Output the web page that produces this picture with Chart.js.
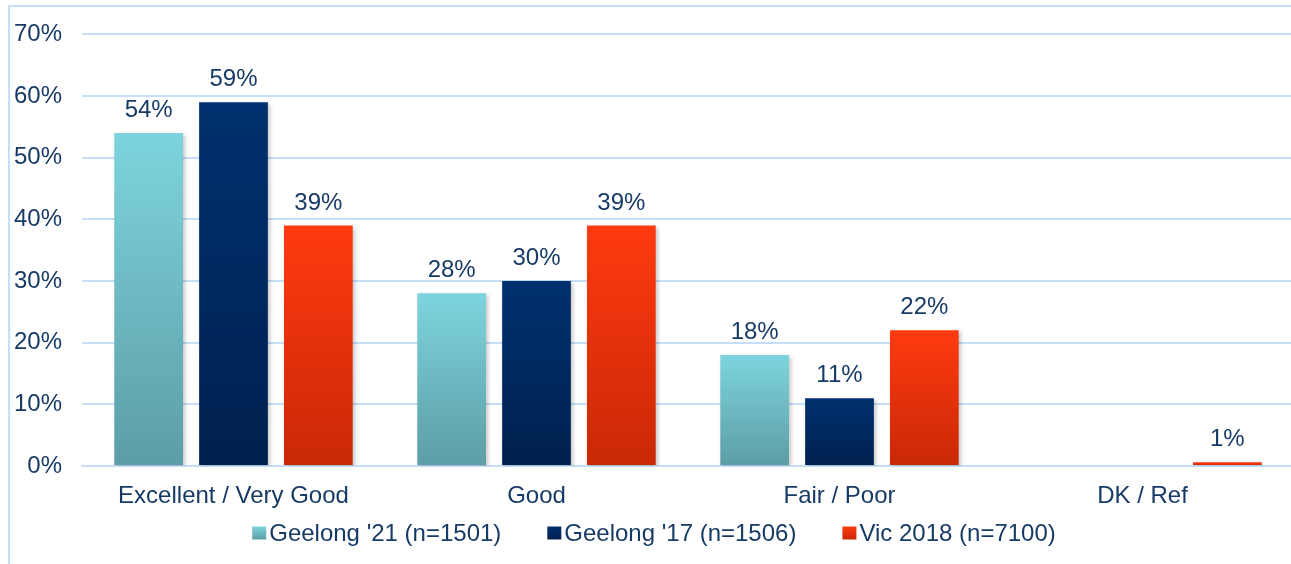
<!DOCTYPE html>
<html>
<head>
<meta charset="utf-8">
<script src="https://cdn.jsdelivr.net/npm/chart.js@4"></script>
<style>
  html, body { margin: 0; padding: 0; background: #fff; overflow: hidden; }
  #wrap { position: relative; width: 1291px; height: 564px; overflow: hidden; }
  #frame { position: absolute; left: 8px; top: 5px; width: 1400px; height: 700px; border: 2px solid #c6def7; box-sizing: border-box; }
  #box { position: absolute; left: 0; top: 0; width: 1294px; height: 564px; }
</style>
</head>
<body>
<div id="wrap">
  <div id="frame"></div>
  <div id="box"><canvas id="chart"></canvas></div>
</div>
<script>
// data
const categories = ['Excellent / Very Good', 'Good', 'Fair / Poor', 'DK / Ref'];
const seriesNames = ["Geelong '21 (n=1501)", "Geelong '17 (n=1506)", 'Vic 2018 (n=7100)'];
const geelong21 = [54, 28, 18, 0];
const geelong17 = [59, 30, 11, 0];
const vic2018 = [39, 39, 22, 0.6];
const yTicks = [0, 10, 20, 30, 40, 50, 60, 70];

const textColor = '#173a66';
const gridColor = '#c6def7';
const FONT = "'Liberation Sans', Arial, sans-serif";

// top / bottom colours of each bar gradient
const gradStops = [
  ['#7dd4de', '#5d9da5'],
  ['#00306f', '#00214f'],
  ['#ff3a10', '#c92806']
];

function vGrad(c, stops, top, bottom) {
  const g = c.createLinearGradient(0, top, 0, bottom);
  g.addColorStop(0, stops[0]);
  g.addColorStop(1, stops[1]);
  return g;
}

function barGradient(ctx) {
  const chart = ctx.chart;
  const stops = gradStops[ctx.datasetIndex];
  const y = chart.scales.y;
  if (!chart.chartArea || !y || ctx.raw == null) return stops[0];
  const top = y.getPixelForValue(ctx.raw);
  const bottom = y.getPixelForValue(0);
  if (!isFinite(top) || !isFinite(bottom) || top === bottom) return stops[0];
  return vGrad(chart.ctx, stops, top, bottom);
}

// soft shadow under the bars
const barShadow = {
  id: 'barShadow',
  beforeDatasetsDraw(chart) {
    const c = chart.ctx;
    c.save();
    c.shadowColor = 'rgba(0,0,0,0.22)';
    c.shadowBlur = 4;
    c.shadowOffsetX = 2;
    c.shadowOffsetY = 2;
  },
  afterDatasetsDraw(chart) {
    chart.ctx.restore();
  }
};

// value labels above bars
const valueLabels = {
  id: 'valueLabels',
  afterDraw(chart) {
    const c = chart.ctx;
    c.save();
    c.font = '24px ' + FONT;
    c.fillStyle = textColor;
    c.textAlign = 'center';
    c.textBaseline = 'alphabetic';
    chart.data.datasets.forEach((ds, i) => {
      chart.getDatasetMeta(i).data.forEach((bar, j) => {
        const v = ds.data[j];
        if (!v) return;
        c.fillText(Math.round(v) + '%', bar.x, bar.y - 16);
      });
    });
    c.restore();
  }
};

// legend row under the x labels: small square, text, wide gap
const bottomLegend = {
  id: 'bottomLegend',
  afterDraw(chart) {
    const c = chart.ctx;
    const box = 14, boxH = 13, gap = 3, itemGap = 46;
    const cy = 533;
    c.save();
    c.font = '24px ' + FONT;
    c.textBaseline = 'middle';
    c.textAlign = 'left';
    const widths = chart.data.datasets.map(ds => c.measureText(ds.label).width);
    const total = widths.reduce((a, w) => a + box + gap + w, 0) + itemGap * (widths.length - 1);
    let x = chart.width / 2 + 7 - total / 2;
    chart.data.datasets.forEach((ds, i) => {
      c.fillStyle = vGrad(c, gradStops[i], cy - boxH / 2, cy + boxH / 2);
      c.fillRect(x, cy - boxH / 2, box, boxH);
      x += box + gap;
      c.fillStyle = textColor;
      c.fillText(ds.label, x, cy + 1);
      x += widths[i] + itemGap;
    });
    c.restore();
  }
};

new Chart(document.getElementById('chart'), {
  type: 'bar',
  data: {
    labels: categories,
    datasets: [
      { label: seriesNames[0], data: geelong21 },
      { label: seriesNames[1], data: geelong17 },
      { label: seriesNames[2], data: vic2018 }
    ].map(d => Object.assign(d, {
      backgroundColor: barGradient,
      categoryPercentage: 0.84,
      barPercentage: 0.81
    }))
  },
  options: {
    responsive: true,
    maintainAspectRatio: false,
    animation: false,
    layout: { padding: { top: 33, right: 0, bottom: 0, left: 0 } },
    scales: {
      x: {
        afterFit(scale) { scale.height = 98; },
        grid: { display: false, drawTicks: false },
        border: { display: true, color: gridColor, width: 2 },
        ticks: { color: textColor, font: { family: FONT, size: 24 }, padding: 16 }
      },
      y: {
        min: 0,
        max: 70,
        afterFit(scale) { scale.width = 82; },
        afterBuildTicks(scale) { scale.ticks = yTicks.map(v => ({ value: v })); },
        grid: { color: gridColor, lineWidth: 2, drawTicks: false },
        border: { display: false },
        ticks: {
          color: textColor,
          font: { family: FONT, size: 24 },
          padding: 20,
          callback: v => v + '%'
        }
      }
    },
    plugins: {
      legend: { display: false },
      tooltip: { enabled: false }
    }
  },
  plugins: [barShadow, valueLabels, bottomLegend]
});
</script>
</body>
</html>
